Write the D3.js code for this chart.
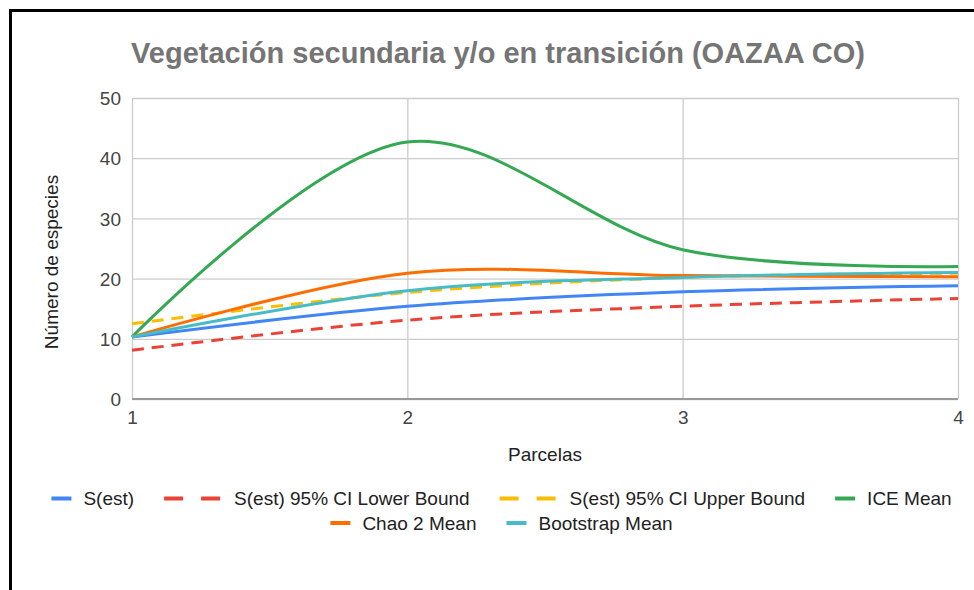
<!DOCTYPE html>
<html>
<head>
<meta charset="utf-8">
<script src="https://cdn.jsdelivr.net/npm/d3@7"></script>
<style>
  html, body { margin: 0; padding: 0; background: #fff; }
  svg { display: block; font-family: "Liberation Sans", Arial, sans-serif; }
</style>
</head>
<body>
<svg id="chart" width="974" height="590"></svg>
<script>
// ---- data ----
const title = "Vegetación secundaria y/o en transición (OAZAA CO)";
const xTitle = "Parcelas";
const yTitle = "Número de especies";
const parcelas = [1, 2, 3, 4];
const yTicks = [0, 10, 20, 30, 40, 50];
const xTicks = [1, 2, 3, 4];
const sEst        = [10.3, 15.4, 17.8, 18.8];
const sEstLower   = [8.1, 13.1, 15.4, 16.7];
const sEstUpper   = [12.5, 17.7, 20.2, 20.9];
const iceMean     = [10.3, 42.7, 24.8, 22.0];
const chao2Mean   = [10.3, 20.9, 20.5, 20.3];
const bootstrap   = [10.3, 18.0, 20.2, 21.0];
const seriesNames = ["S(est)", "S(est) 95% CI Lower Bound", "S(est) 95% CI Upper Bound", "ICE Mean", "Chao 2 Mean", "Bootstrap Mean"];
const seriesColors = ["#4285F4", "#EA4335", "#FBBC04", "#34A853", "#FF6D01", "#46BDC6"];
const seriesDashed = [false, true, true, false, false, false];
const seriesValues = [sEst, sEstLower, sEstUpper, iceMean, chao2Mean, bootstrap];

// ---- layout ----
const svg = d3.select("#chart");
const W = 974, H = 590;
const plot = { left: 132, right: 958, top: 98, bottom: 399 };
const FONT = 19;

svg.append("rect").attr("width", W).attr("height", H).attr("fill", "#fff");
// frame (top and left)
svg.append("path").attr("d", `M10.5,${H} L10.5,10.5 L${W},10.5`)
  .attr("fill", "none").attr("stroke", "#000").attr("stroke-width", 3);

const x = d3.scaleLinear().domain([1, 4]).range([plot.left, plot.right]);
const y = d3.scaleLinear().domain([0, 50]).range([plot.bottom, plot.top]);

// gridlines
const gY = svg.append("g")
  .attr("transform", `translate(${plot.left},0)`)
  .call(d3.axisLeft(y).tickValues(yTicks).tickSize(-(plot.right - plot.left)).tickFormat(""));
gY.select(".domain").remove();
gY.selectAll("line").attr("stroke", "#cccccc").attr("stroke-width", 1.3);

const gX = svg.append("g")
  .attr("transform", `translate(0,${plot.bottom})`)
  .call(d3.axisBottom(x).tickValues(xTicks).tickSize(-(plot.bottom - plot.top)).tickFormat(""));
gX.select(".domain").remove();
gX.selectAll("line").attr("stroke", "#cccccc").attr("stroke-width", 1.3);

// baseline
svg.append("line").attr("x1", plot.left).attr("x2", plot.right)
  .attr("y1", y(0)).attr("y2", y(0)).attr("stroke", "#999").attr("stroke-width", 2);

// tick labels
const yl = svg.append("g")
  .attr("transform", `translate(${plot.left - 11},0)`)
  .call(d3.axisLeft(y).tickValues(yTicks).tickSize(0).tickPadding(0).tickFormat(d3.format("d")));
yl.select(".domain").remove();
yl.selectAll("text").attr("font-size", FONT).attr("fill", "#444")
  .attr("font-family", "Liberation Sans, Arial, sans-serif").attr("dy", "0.35em");

const xl = svg.append("g")
  .attr("transform", `translate(0,${plot.bottom})`)
  .call(d3.axisBottom(x).tickValues(xTicks).tickSize(0).tickPadding(0).tickFormat(d3.format("d")));
xl.select(".domain").remove();
xl.selectAll("text").attr("font-size", FONT).attr("fill", "#444")
  .attr("font-family", "Liberation Sans, Arial, sans-serif").attr("dy", null).attr("y", 25);

// axis titles
svg.append("text").attr("x", (plot.left + plot.right) / 2).attr("y", 461)
  .attr("text-anchor", "middle").attr("font-size", FONT).attr("fill", "#222").text(xTitle);
svg.append("text").attr("transform", `translate(58,262) rotate(-90)`)
  .attr("text-anchor", "middle").attr("font-size", FONT).attr("fill", "#222").text(yTitle);

// title
svg.append("text").attr("x", 498).attr("y", 63).attr("text-anchor", "middle")
  .attr("font-size", 29).attr("font-weight", "bold").attr("fill", "#757575").text(title);

// lines
const line = d3.line().x(d => x(d[0])).y(d => y(d[1])).curve(d3.curveCatmullRom.alpha(0.5));
const gLines = svg.append("g");
seriesValues.forEach((vals, i) => {
  gLines.append("path")
    .datum(parcelas.map((p, j) => [p, vals[j]]))
    .attr("d", line)
    .attr("fill", "none")
    .attr("stroke", seriesColors[i])
    .attr("stroke-width", 3)
    .attr("stroke-dasharray", seriesDashed[i] ? "12,8" : null);
});

// legend
const rows = [[0, 1, 2, 3], [4, 5]];
const rowY = [498.5, 523];
const legendCenter = 501.5;
rows.forEach((row, r) => {
  const g = svg.append("g");
  let cx = 0;
  row.forEach((i, k) => {
    const item = g.append("g").attr("transform", `translate(${cx},0)`);
    let sw;
    if (seriesDashed[i]) {
      item.append("rect").attr("x", 0).attr("y", rowY[r] - 2).attr("width", 19).attr("height", 4).attr("fill", seriesColors[i]);
      item.append("rect").attr("x", 37).attr("y", rowY[r] - 2).attr("width", 19).attr("height", 4).attr("fill", seriesColors[i]);
      sw = 56 + 14;
    } else {
      item.append("rect").attr("x", 0).attr("y", rowY[r] - 2).attr("width", 20).attr("height", 4).attr("fill", seriesColors[i]);
      sw = 20 + 12;
    }
    const t = item.append("text").attr("x", sw).attr("y", rowY[r] + 6.5)
      .attr("font-size", FONT).attr("fill", "#222").text(seriesNames[i]);
    cx += sw + t.node().getComputedTextLength() + 30;
  });
  const total = cx - 30;
  g.attr("transform", `translate(${legendCenter - total / 2},0)`);
});
</script>
</body>
</html>
